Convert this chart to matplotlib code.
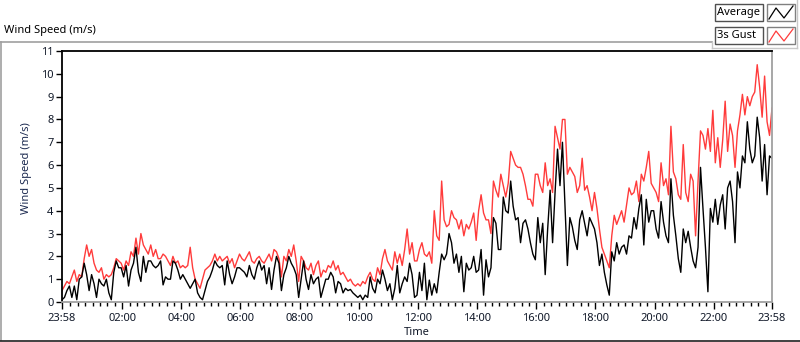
import numpy as np
import matplotlib.pyplot as plt
from matplotlib.lines import Line2D
from matplotlib.patches import Rectangle

####### DATA (5-minute steps from 23:58) #######

# Average wind speed (m/s), one row per hour
average = [
    0.1, 0.2, 0.5, 0.7, 0.2, 0.7, 0.1, 1.0, 1.1, 1.7, 1.2, 0.5,
    1.2, 0.8, 0.2, 1.0, 0.8, 0.7, 1.0, 0.4, 0.1, 1.3, 1.8, 1.5,
    1.5, 1.1, 1.6, 0.7, 1.4, 1.7, 2.4, 1.3, 0.9, 2.0, 1.3, 1.8,
    1.8, 1.6, 1.5, 1.6, 1.8, 0.75, 1.1, 1.0, 1.0, 1.8, 1.7, 1.4,
    1.0, 1.2, 1.0, 0.8, 0.6, 0.8, 1.0, 0.4, 0.2, 0.1, 0.5, 0.9,
    1.1, 1.4, 1.8, 1.6, 1.5, 1.6, 0.75, 1.8, 1.2, 0.8, 1.1, 1.5,
    1.5, 1.4, 1.3, 1.1, 1.6, 1.2, 1.0, 1.5, 1.8, 1.4, 1.6, 0.8,
    1.5, 0.55, 1.4, 2.0, 1.7, 0.5, 1.2, 1.5, 2.0, 1.7, 1.5, 1.2,
    0.2, 1.0, 1.8, 1.0, 0.55, 1.2, 0.8, 1.0, 1.1, 0.2, 0.6, 1.0,
    1.0, 1.3, 1.1, 0.4, 0.9, 0.8, 0.4, 0.6, 0.5, 0.55, 0.4, 0.3,
    0.2, 0.3, 0.1, 0.3, 0.2, 1.1, 0.6, 0.4, 1.0, 0.8, 1.4, 1.0,
    0.5, 0.8, 0.1, 0.6, 1.6, 0.4, 0.8, 1.1, 0.9, 1.7, 1.2, 0.2,
    0.3, 1.3, 0.5, 1.7, 0.1, 0.96, 0.3, 0.8, 0.4, 1.3, 2.1, 1.85,
    2.1, 3.0, 2.6, 1.7, 2.1, 1.3, 2.0, 0.45, 1.7, 1.4, 1.5, 2.0,
    1.3, 1.4, 2.3, 0.3, 1.85, 1.1, 1.5, 3.7, 3.45, 2.3, 2.3, 4.6,
    4.0, 3.9, 5.3, 4.2, 3.6, 3.7, 2.6, 3.45, 3.6, 3.2, 2.6, 2.1,
    1.85, 3.7, 2.6, 3.45, 1.2, 3.2, 4.9, 2.6, 4.8, 6.7, 5.1, 7.0,
    4.3, 1.6, 3.7, 3.3, 2.7, 2.3, 3.6, 4.0, 3.45, 2.9, 3.7, 3.45,
    3.2, 2.6, 1.6, 2.1, 1.3, 0.75, 0.3, 2.2, 1.8, 2.6, 2.1, 2.4,
    2.5, 2.1, 2.9, 2.8, 3.7, 3.2, 4.1, 4.7, 2.5, 4.5, 3.5, 4.0,
    4.0, 3.2, 2.8, 4.4, 3.5, 2.9, 2.6, 5.4, 3.8, 2.9, 1.9, 1.3,
    3.2, 2.6, 3.1, 2.4, 1.8, 1.5, 2.4, 5.9, 4.1, 2.4, 0.45, 4.1,
    3.5, 4.5, 3.4, 4.25, 4.7, 3.2, 5.0, 5.3, 4.4, 2.6, 5.7, 5.0,
    6.4, 6.1, 7.9, 6.7, 6.1, 6.4, 8.1, 7.2, 5.3, 6.9, 4.7, 6.4,
    6.3,
]

# 3s gust (m/s), one row per hour
gust = [
    0.5, 0.7, 0.9, 0.8, 1.1, 1.4, 0.9, 1.2, 1.1, 1.9, 2.5, 2.0,
    2.3, 1.7, 1.4, 1.3, 1.5, 1.0, 1.2, 1.1, 1.2, 1.5, 1.9, 1.8,
    1.7, 1.4, 1.8, 1.6, 2.2, 2.0, 2.8, 2.1, 3.0, 2.5, 2.3, 2.1,
    2.5, 2.0, 2.3, 1.9, 1.9, 2.1, 2.0, 1.8, 1.6, 2.0, 1.7, 1.8,
    1.5, 1.6, 1.5, 1.6, 2.4, 1.5, 1.0, 0.8, 0.6, 1.0, 1.4, 1.5,
    1.6, 1.8, 2.1, 1.8, 2.0, 1.8, 1.9, 2.0, 1.7, 1.9, 1.5, 1.8,
    2.1, 1.9, 1.8, 2.0, 2.2, 1.8, 1.7, 1.9, 2.0, 1.8, 1.7, 1.9,
    2.1, 1.8, 2.3, 2.2, 1.9, 1.1, 2.0, 1.8, 2.3, 2.0, 2.5, 1.8,
    0.9, 2.0, 1.8, 1.5, 1.4, 1.7, 1.2, 1.6, 1.8, 1.1, 1.4, 1.3,
    1.6, 1.5, 1.8, 1.4, 1.6, 1.2, 1.3, 1.1, 0.9, 1.0, 0.8, 0.7,
    0.8, 0.7, 0.9, 0.8, 1.1, 1.3, 1.0, 0.9, 1.5, 1.2, 1.9, 2.3,
    1.8, 1.6, 1.4, 2.2, 1.7, 2.1, 1.6, 2.3, 3.2, 2.1, 2.6, 1.8,
    1.8, 2.3, 2.6, 2.1, 2.0, 2.2, 1.7, 4.0, 2.9, 2.7, 5.3, 3.6,
    3.3, 3.4, 4.0, 3.7, 3.6, 3.2, 3.6, 2.9, 3.4, 3.2, 3.5, 3.9,
    2.7, 4.0, 4.7, 3.9, 3.6, 3.6, 3.0, 5.3, 4.9, 4.6, 5.6, 5.1,
    4.6, 5.2, 6.6, 6.3, 6.0, 5.9, 5.9, 5.6, 5.1, 4.5, 4.5, 4.2,
    5.6, 5.6, 5.1, 4.8, 6.1, 5.1, 5.4, 4.8, 7.7, 7.2, 6.7, 8.0,
    8.0, 5.6, 5.9, 5.7, 5.5, 4.8, 5.1, 6.3, 4.9, 5.1, 4.6, 4.0,
    4.8, 4.1, 3.2, 2.4, 2.1, 1.8, 1.5, 2.9, 3.8, 3.4, 3.7, 4.0,
    3.5, 4.25, 5.0, 4.7, 4.8, 5.3, 4.4, 5.6, 5.3, 5.9, 6.6, 5.2,
    5.0, 4.8, 4.4, 6.1, 5.1, 5.4, 4.7, 7.7, 5.7, 5.4, 4.7, 4.5,
    6.9, 4.8, 4.4, 5.6, 5.3, 2.9, 5.3, 7.5, 7.3, 6.7, 7.6, 6.6,
    8.4, 6.1, 7.2, 5.9, 7.1, 8.8, 6.6, 7.8, 7.3, 5.9, 7.5, 8.2,
    9.1, 8.2, 9.0, 8.6, 9.0, 9.2, 10.4, 9.4, 8.1, 9.9, 7.9, 7.3,
    8.5,
]

time_labels = ['23:58', '02:00', '04:00', '06:00', '08:00', '10:00', '12:00',
               '14:00', '16:00', '18:00', '20:00', '22:00', '23:58']
legend_names = ['Average', '3s Gust']

# minutes since 23:58
minutes = np.linspace(0, 24 * 60, len(average))

plt.rcParams['font.family'] = ['Noto Sans', 'DejaVu Sans']
W, H = 800, 342
txt_col = '#101828'


def px(x, y):
    # pixel position (from top-left) to figure fraction
    return x / W, 1 - y / H


fig = plt.figure(figsize=(W / 100, H / 100), dpi=100)
ax = fig.add_axes([62 / W, 1 - 302 / H, 710 / W, 251 / H])

ax.plot(minutes, gust, color='#ff3b3b', linewidth=1.0)
ax.plot(minutes, average, color='black', linewidth=1.0)

ax.set_xlim(0, 24 * 60)
ax.set_ylim(0, 11)
ax.set_yticks(range(0, 12))

major = [0] + list(range(122, 1440, 120)) + [1440]
ax.set_xticks(major)
ax.set_xticklabels(time_labels)
ax.set_xticks([m for m in range(17, 1440, 15) if m not in major], minor=True)

ax.tick_params(axis='both', which='major', direction='out', labelsize=8,
               labelcolor=txt_col, color='black', width=1)
ax.tick_params(axis='x', which='major', length=5, pad=3)
ax.tick_params(axis='x', which='minor', length=3, width=1, color='black')
ax.tick_params(axis='y', which='major', length=4, pad=2)

ax.spines['left'].set_color('black')
ax.spines['top'].set_color('black')
ax.spines['right'].set_color('#a0a0a0')
ax.spines['bottom'].set_color('#a0a0a0')
for s in ax.spines.values():
    s.set_linewidth(1.3)

ax.set_xlabel('Time', fontsize=8, color=txt_col, labelpad=2)
ax.set_ylabel('Wind Speed (m/s)', fontsize=8, color='#1c2a50')
ax.yaxis.set_label_coords(-0.042, 0.534)

# Chart title and outer frame
fig.text(*px(4, 31), 'Wind Speed (m/s)', fontsize=8, color='black', va='center')
fig.add_artist(Line2D([0, 712 / W], [1 - 42 / H] * 2, color='#a0a0a0', lw=1.2))
fig.add_artist(Line2D([0.5 / W] * 2, [1 - 42 / H, 1 - 340 / H], color='#a0a0a0', lw=1.2))
fig.add_artist(Line2D([0, 1], [1 - 340.5 / H] * 2, color='#202020', lw=1.2))

# Legend panel
fig.add_artist(Line2D([712 / W] * 2, [1 - 42 / H, 1 - 48 / H], color='#c8c8c8', lw=1))
fig.add_artist(Line2D([712 / W, 797 / W], [1 - 48 / H] * 2, color='#c8c8c8', lw=1))
fig.add_artist(Line2D([797 / W] * 2, [1, 1 - 48 / H], color='#c8c8c8', lw=1))

for i, (name, col) in enumerate(zip(legend_names, ['black', '#ff3b3b'])):
    top = 4 + i * 23
    x0, y0 = px(715, top + 17)
    fig.add_artist(Rectangle((x0, y0), 48 / W, 17 / H, transform=fig.transFigure,
                             facecolor='white', edgecolor='#505050', lw=1))
    fig.text(*px(717, top + 8.5), name, fontsize=8, color='black', va='center')
    x1, y1 = px(767, top + 17)
    fig.add_artist(Rectangle((x1, y1), 28 / W, 17 / H, transform=fig.transFigure,
                             facecolor='white', edgecolor='#808080', lw=1))
    zx = [769, 776, 784, 793]
    zy = [top + 15, top + 4, top + 14, top + 2]
    fig.add_artist(Line2D([x / W for x in zx], [1 - y / H for y in zy], color=col, lw=0.9))

fig.savefig('out.png', dpi=100)
